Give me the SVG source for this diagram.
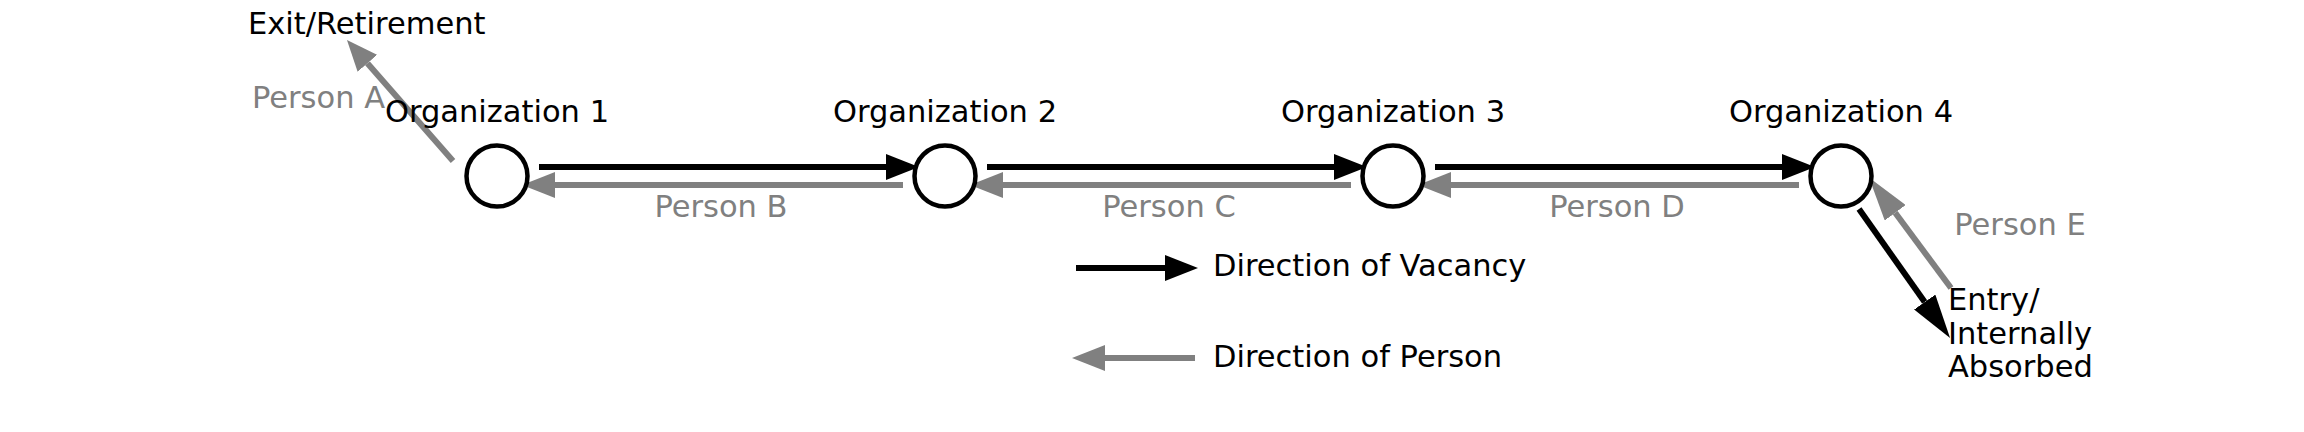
<svg xmlns="http://www.w3.org/2000/svg" width="2304" height="432" viewBox="0 0 2304 432">
<style>
text{font-family:"DejaVu Sans","Liberation Sans",sans-serif;font-size:30.5px}
.lbl{fill:#000}
.per{fill:#808080}
.mid{text-anchor:middle}
.org{fill:#fff;stroke:#000;stroke-width:4.5}
.vb{stroke:#000;stroke-width:6;fill:none}
.pg{stroke:#808080;stroke-width:6;fill:none}
</style>
<defs>
<marker id="hb" markerUnits="userSpaceOnUse" markerWidth="33" markerHeight="26" refX="0" refY="13" orient="auto"><path d="M0,0 L33,13 L0,26 z" fill="#000"/></marker>
<marker id="hg" markerUnits="userSpaceOnUse" markerWidth="33" markerHeight="26" refX="0" refY="13" orient="auto"><path d="M0,0 L33,13 L0,26 z" fill="#808080"/></marker>
<marker id="hbl" markerUnits="userSpaceOnUse" markerWidth="44" markerHeight="26" refX="0" refY="13" orient="auto"><path d="M0,0 L44,13 L0,26 z" fill="#000"/></marker>
<marker id="hgl" markerUnits="userSpaceOnUse" markerWidth="44" markerHeight="26" refX="0" refY="13" orient="auto"><path d="M0,0 L44,13 L0,26 z" fill="#808080"/></marker>
<marker id="hgs" markerUnits="userSpaceOnUse" markerWidth="31" markerHeight="26" refX="0" refY="13" orient="auto"><path d="M0,0 L31,13 L0,26 z" fill="#808080"/></marker>
</defs>
<rect width="2304" height="432" fill="#fff"/>
<g id="connectors">
<line class="vb" x1="539" y1="167" x2="886" y2="167" marker-end="url(#hb)"/>
<line class="pg" x1="903" y1="185" x2="555" y2="185" marker-end="url(#hg)"/>
<line class="vb" x1="987" y1="167" x2="1334" y2="167" marker-end="url(#hb)"/>
<line class="pg" x1="1351" y1="185" x2="1003" y2="185" marker-end="url(#hg)"/>
<line class="vb" x1="1435" y1="167" x2="1782" y2="167" marker-end="url(#hb)"/>
<line class="pg" x1="1799" y1="185" x2="1451" y2="185" marker-end="url(#hg)"/>
<line class="pg" x1="453" y1="161" x2="367.4" y2="63.3" marker-end="url(#hgs)"/>
<line class="pg" x1="1951" y1="288" x2="1895.2" y2="212.8" marker-end="url(#hgl)"/>
<line class="vb" x1="1859" y1="209" x2="1924.7" y2="302.1" marker-end="url(#hbl)"/>
</g>
<g id="org1"><circle class="org" cx="497" cy="176" r="30.5"/><text class="lbl mid" x="497" y="122">Organization 1</text></g>
<g id="org2"><circle class="org" cx="945" cy="176" r="30.5"/><text class="lbl mid" x="945" y="122">Organization 2</text></g>
<g id="org3"><circle class="org" cx="1393" cy="176" r="30.5"/><text class="lbl mid" x="1393" y="122">Organization 3</text></g>
<g id="org4"><circle class="org" cx="1841" cy="176" r="30.5"/><text class="lbl mid" x="1841" y="122">Organization 4</text></g>
<g id="exit"><text class="lbl" x="248" y="34">Exit/Retirement</text></g>
<g id="entry"><text class="lbl" x="1948" y="310">Entry/</text><text class="lbl" x="1948" y="344">Internally</text><text class="lbl" x="1948" y="377">Absorbed</text></g>
<g id="person-labels">
<text class="per" x="252" y="108">Person A</text>
<text class="per mid" x="721" y="217">Person B</text>
<text class="per mid" x="1169" y="217">Person C</text>
<text class="per mid" x="1617" y="217">Person D</text>
<text class="per mid" x="2020" y="235">Person E</text>
</g>
<g id="legend">
<line class="vb" x1="1076" y1="268" x2="1165" y2="268" marker-end="url(#hb)"/>
<text class="lbl" x="1213" y="276">Direction of Vacancy</text>
<line class="pg" x1="1195" y1="358" x2="1105" y2="358" marker-end="url(#hg)"/>
<text class="lbl" x="1213" y="367">Direction of Person</text>
</g>
</svg>
